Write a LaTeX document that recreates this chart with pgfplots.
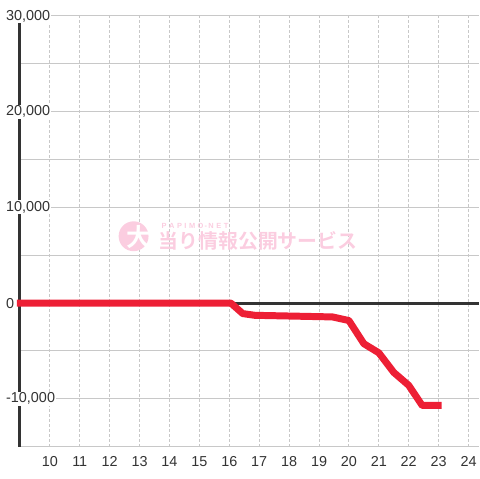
\documentclass[border=0pt]{standalone}
\usepackage{pgfplots}
\pgfplotsset{compat=1.18}
\usepackage{fontspec}
\setmainfont{Liberation Sans}
\newfontfamily\cjk{Noto Sans CJK JP}[BoldFont={Noto Sans CJK JP Bold}]
\definecolor{redline}{HTML}{ED1F35}
\definecolor{darkax}{HTML}{333333}
\definecolor{gridc}{HTML}{C8C8C8}
\definecolor{wm}{HTML}{FBCDE0}
\begin{document}
\begin{tikzpicture}
\path (-20bp,-32bp) rectangle (460bp,448bp);
% watermark
\fill[wm] (114bp,211bp) circle (15bp);
\node[text=white, font=\cjk\bfseries\fontsize{25}{25}\selectfont, inner sep=0pt] at (119bp,210bp) {大};
\node[text=wm, font=\cjk\bfseries\fontsize{20}{20}\selectfont, inner sep=0pt, anchor=west] at (139bp,206bp) {当り情報公開サービス};
\node[text=wm, font=\bfseries\fontsize{7.5}{7.5}\selectfont, inner sep=0pt, anchor=west] at (142bp,221.5bp) {P\,\,A\,\,P\,\,I\,\,M\,\,O\,-\,N\,\,E\,\,T};
\begin{axis}[
  set layers,
  at={(0,0)}, anchor=south west,
  scale only axis, width=460bp, height=432bp,
  xmin=9, xmax=24.333, ymin=-15000, ymax=30000,
  axis y line=left, axis x line=bottom,
  axis line style={-},
  y axis line style={draw=darkax, line width=3bp},
  x axis line style={draw=gridc, line width=1bp},
  scaled y ticks=false, scaled x ticks=false,
  xtick={10,11,12,13,14,15,16,17,18,19,20,21,22,23,24},
  xticklabels={10,11,12,13,14,15,16,17,18,19,20,21,22,23,24},
  ytick={-10000,0,10000,20000,30000},
  yticklabels={{-10,000},{0},{10,000},{20,000},{30,000}},
  minor ytick={-5000,5000,15000,25000},
  major tick length=0pt, minor tick length=0pt,
  xmajorgrids, ymajorgrids, yminorgrids,
  x grid style={draw=gridc, line width=1bp, dash pattern=on 3bp off 2bp},
  y grid style={draw=gridc, line width=1bp},
  minor y grid style={draw=gridc, line width=1bp},
  tick label style={font=\fontsize{14.5}{16}\selectfont, text=darkax},
  yticklabel style={anchor=west, xshift=-15bp, fill=white, inner sep=1bp},
  xticklabel style={anchor=north, inner sep=0pt, yshift=-9.5bp},
  clip=false,
]
\addplot[draw=darkax, line width=3bp] coordinates {(9,0) (24.333,0)};
\addplot[draw=redline, line width=7bp, line join=round] coordinates {
(8.9,0) (16.05,0) (16.45,-1100) (16.85,-1280) (19.45,-1450) (20.0,-1830)
(20.5,-4250) (21.0,-5200) (21.5,-7250) (22.0,-8600) (22.45,-10700) (23.1,-10700)};
\end{axis}
\end{tikzpicture}
\end{document}
